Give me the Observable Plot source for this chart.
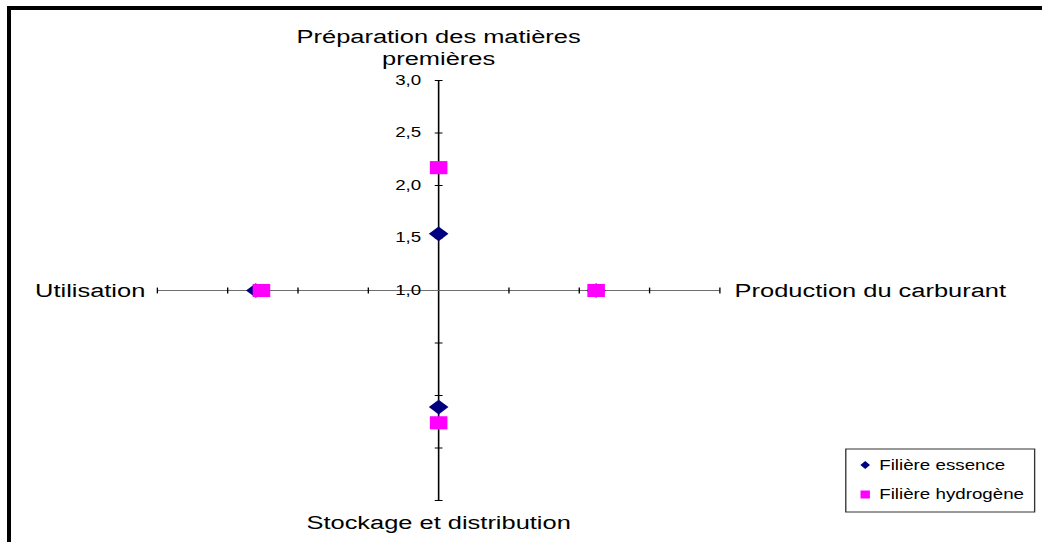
<!DOCTYPE html>
<html><head><meta charset="utf-8">
<script src="https://cdn.jsdelivr.net/npm/d3@7"></script>
<script src="https://cdn.jsdelivr.net/npm/@observablehq/plot@0.6"></script>
<style>
html,body{margin:0;padding:0;overflow:hidden;background:#fff;}
#wrap{position:relative;width:1042px;height:542px;overflow:hidden;background:#fff;}
#frame{position:absolute;left:7px;top:6px;width:1100px;height:600px;border-left:4px solid #000;border-top:4px solid #000;pointer-events:none;}
#chart{position:absolute;left:0;top:0;}
</style></head><body>
<div id="wrap"><div id="chart"></div><div id="frame"></div></div>
<script>
// ---- data ----
const axes = ["Préparation des matières\npremières", "Production du carburant", "Stockage et distribution", "Utilisation"];
const series = ["Filière essence", "Filière hydrogène"];
const essence = [1.54, 2.12, 2.11, 2.30];
const hydrogene = [2.17, 2.12, 2.26, 2.26];
const tickValues = [1.0, 1.5, 2.0, 2.5, 3.0];
const tickLabels = ["1,0", "1,5", "2,0", "2,5", "3,0"];
const colors = ["#000080", "#ff00ff"];
const rMin = 1.0, rMax = 3.0;

// ---- geometry (drawn unstretched, then stretched horizontally like the original picture) ----
const W = 778, H = 542;
const font = "'Liberation Sans', Arial, Helvetica, sans-serif";
const angle = i => i * Math.PI / 2;
const R = rMax - rMin;

const points = [];
[essence, hydrogene].forEach((vals, s) => vals.forEach((v, i) => {
  const r = v - rMin, t = angle(i);
  points.push({series: series[s], axis: axes[i], value: v, x: r * Math.sin(t), y: r * Math.cos(t)});
}));

const spokes = axes.map((a, i) => ({axis: a, i, x2: R * Math.sin(angle(i)), y2: R * Math.cos(angle(i)), stroke: i % 2 ? "#6e6e6e" : "#000"}));

const h = 2.9 / 105;
const tickMarks = [];
axes.forEach((a, i) => tickValues.filter(v => v > rMin).forEach(v => {
  const r = v - rMin, t = angle(i);
  const cx = r * Math.sin(t), cy = r * Math.cos(t);
  tickMarks.push({x1: cx - h * Math.cos(t), y1: cy + h * Math.sin(t), x2: cx + h * Math.cos(t), y2: cy - h * Math.sin(t)});
}));

const tickText = tickValues.map((v, k) => ({y: v - rMin, label: tickLabels[k]}));

const catAt = i => [{x: spokes[i].x2, y: spokes[i].y2, label: axes[i]}];

const plot = Plot.plot({
  width: W, height: H,
  marginLeft: 117, marginRight: W - 537, marginTop: 80, marginBottom: H - 500,
  x: {domain: [-R, R], axis: null},
  y: {domain: [-R, R], axis: null},
  color: {domain: series, range: colors},
  style: {fontFamily: font, background: "transparent", overflow: "visible"},
  marks: [
    Plot.link(spokes, {x1: 0, y1: 0, x2: "x2", y2: "y2", stroke: "stroke", strokeWidth: 1.2}),
    Plot.link(tickMarks, {x1: "x1", y1: "y1", x2: "x2", y2: "y2", stroke: "#000", strokeWidth: 1}),
    Plot.text(tickText, {x: 0, y: "y", text: "label", textAnchor: "end", dx: -13, fontSize: 14, fill: "#000"}),
    Plot.text(catAt(0), {x: "x", y: "y", text: "label", lineAnchor: "bottom", dy: -16, lineHeight: 1.13, fontSize: 19, fill: "#000"}),
    Plot.text(catAt(1), {x: "x", y: "y", text: "label", textAnchor: "start", dx: 11, fontSize: 19, fill: "#000"}),
    Plot.text(catAt(2), {x: "x", y: "y", text: "label", dy: 22, fontSize: 19, fill: "#000"}),
    Plot.text(catAt(3), {x: "x", y: "y", text: "label", textAnchor: "end", dx: -9, fontSize: 19, fill: "#000"}),
    Plot.dot(points.filter(d => d.series === series[0]), {x: "x", y: "y", fill: "series", symbol: "diamond2", r: 6.6, stroke: null}),
    Plot.dot(points.filter(d => d.series === series[1]), {x: "x", y: "y", fill: "series", symbol: "square", r: 7.4, stroke: null})
  ]
});

// legend inside the same svg
const svg = d3.select(plot);
const lg = svg.append("g").attr("font-family", font).attr("font-size", 14).attr("text-anchor", "start");
lg.append("rect").attr("x", 631.5).attr("y", 449).attr("width", 141).attr("height", 63)
  .attr("fill", "#fff").attr("stroke", "#333").attr("stroke-width", 1);
const item = lg.selectAll("g.item").data(series).join("g").attr("class", "item")
  .attr("transform", (d, k) => `translate(646,${465 + k * 29.5})`);
item.filter((d, k) => k === 0).append("path").attr("d", "M0,-4L3.6,0L0,4L-3.6,0Z").attr("fill", colors[0]);
item.filter((d, k) => k === 1).append("rect").attr("x", -3.5).attr("y", -4).attr("width", 7).attr("height", 8).attr("fill", colors[1]);
item.append("text").attr("x", 10.5).attr("y", 4.5).attr("fill", "#000").attr("text-anchor", "start").text(d => d);

plot.setAttribute("viewBox", `0 0 ${W} ${H}`);
plot.setAttribute("preserveAspectRatio", "none");
plot.setAttribute("width", 1042);
plot.setAttribute("height", H);
plot.style.width = "1042px";
plot.style.height = H + "px";
plot.style.maxWidth = "none";
document.getElementById("chart").appendChild(plot);
</script>
</body></html>
